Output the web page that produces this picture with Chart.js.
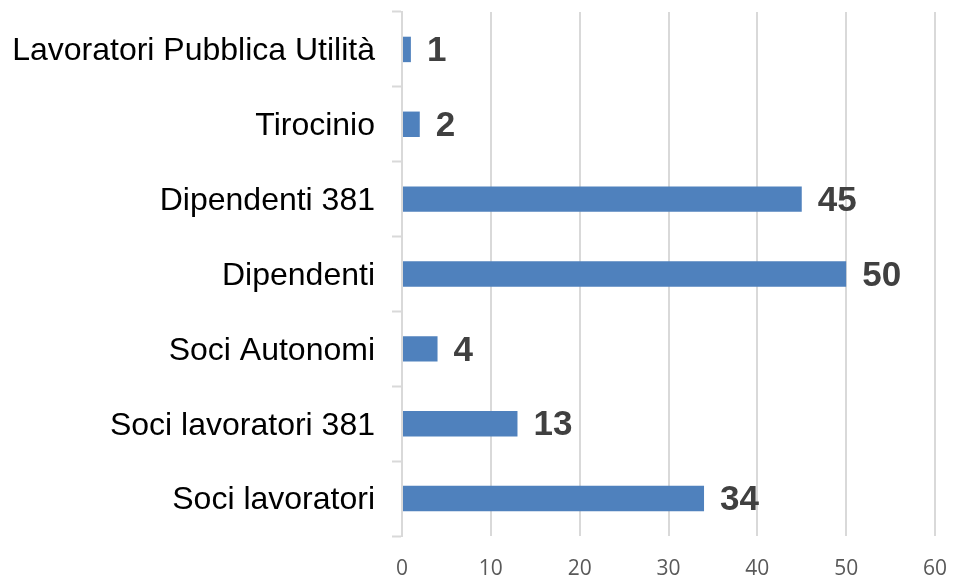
<!DOCTYPE html>
<html>
<head>
<meta charset="utf-8">
<script src="https://cdn.jsdelivr.net/npm/chart.js@4/dist/chart.umd.min.js"></script>
<style>
  html, body { margin: 0; padding: 0; background: #fff; }
  #wrap { width: 953px; height: 585px; }
</style>
</head>
<body>
<div id="wrap"><canvas id="chart"></canvas></div>
<script>
// categories, top to bottom
var categories = [
    'Lavoratori Pubblica Utilità',
    'Tirocinio',
    'Dipendenti 381',
    'Dipendenti',
    'Soci Autonomi',
    'Soci lavoratori 381',
    'Soci lavoratori'
];
var counts = [1, 2, 45, 50, 4, 13, 34];
var xTicks = [0, 10, 20, 30, 40, 50, 60];

// draw value labels at the end of each bar
var valueLabels = {
    id: 'valueLabels',
    afterDatasetsDraw: function(chart) {
        var ctx = chart.ctx;
        var meta = chart.getDatasetMeta(0);
        ctx.save();
        ctx.font = 'bold 35px "Liberation Sans", Arial, sans-serif';
        ctx.fillStyle = '#404040';
        ctx.textAlign = 'left';
        ctx.textBaseline = 'middle';
        meta.data.forEach(function(bar, i) {
            ctx.fillText(String(counts[i]), bar.x + 16, bar.y + 2);
        });
        ctx.restore();
    }
};

new Chart(document.getElementById('chart'), {
    type: 'bar',
    data: {
        labels: categories,
        datasets: [{
            data: counts,
            backgroundColor: '#4f81bd',
            borderWidth: 0,
            categoryPercentage: 1,
            barPercentage: 0.34
        }]
    },
    options: {
        indexAxis: 'y',
        responsive: true,
        maintainAspectRatio: false,
        animation: false,
        layout: { padding: { top: 12, right: 18, bottom: 0, left: 0 } },
        plugins: {
            legend: { display: false },
            tooltip: { enabled: false }
        },
        scales: {
            x: {
                min: 0,
                max: 60,
                afterBuildTicks: function(scale) {
                    scale.ticks = xTicks.map(function(v) { return { value: v }; });
                },
                afterFit: function(scale) {
                    scale.height = 49;
                    scale.paddingLeft = 0;
                    scale.paddingRight = 0;
                },
                border: { display: false },
                grid: { color: '#d9d9d9', lineWidth: 2, drawTicks: false },
                ticks: {
                    color: '#595959',
                    padding: 20,
                    font: { family: '"Open Sans", "Liberation Sans", sans-serif', size: 21 }
                }
            },
            y: {
                afterFit: function(scale) {
                    scale.width = 402;
                    scale.paddingTop = 0;
                    scale.paddingBottom = 0;
                },
                border: { display: true, color: '#d9d9d9', width: 2 },
                grid: {
                    drawOnChartArea: false,
                    tickLength: 10,
                    tickColor: '#d9d9d9',
                    tickWidth: 2
                },
                ticks: {
                    color: '#000000',
                    padding: 17,
                    labelOffset: 2,
                    font: { family: '"Liberation Sans", Arial, sans-serif', size: 32 }
                }
            }
        }
    },
    plugins: [valueLabels]
});
</script>
</body>
</html>
